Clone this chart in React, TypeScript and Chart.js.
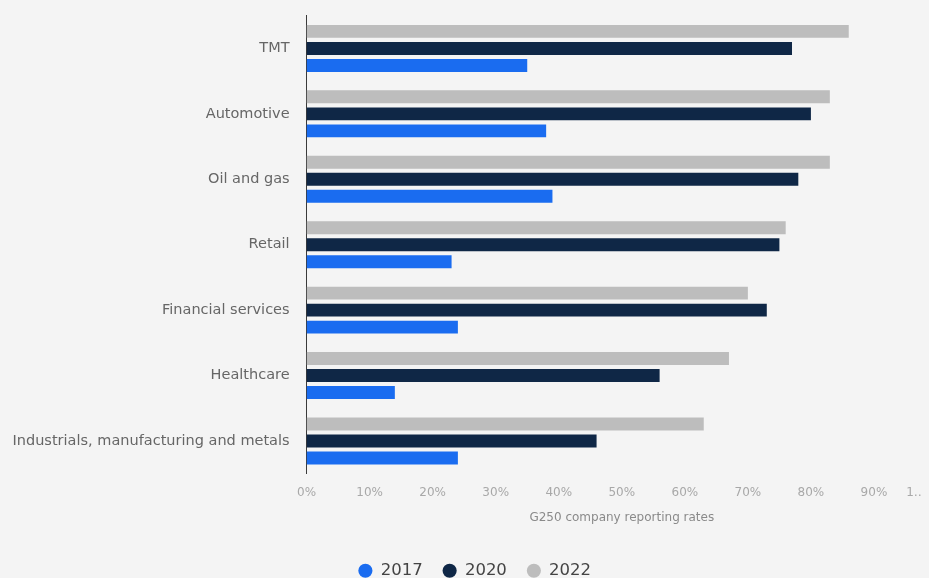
import React, { useEffect, useRef } from 'react';
import { Chart, registerables } from 'chart.js';

Chart.register(...registerables);

const categories = [
  'TMT',
  'Automotive',
  'Oil and gas',
  'Retail',
  'Financial services',
  'Healthcare',
  'Industrials, manufacturing and metals',
];
const seriesLabels = ['2017', '2020', '2022'];
const values2017 = [35, 38, 39, 23, 24, 14, 24];
const values2020 = [77, 80, 78, 75, 73, 56, 46];
const values2022 = [86, 83, 83, 76, 70, 67, 63];
const xTickValues = [0, 10, 20, 30, 40, 50, 60, 70, 80, 90, 100];
const xAxisTitle = 'G250 company reporting rates';

const colors = { '2017': '#1a6cf0', '2020': '#0f2746', '2022': '#bdbdbd' };

export default function App() {
  const ref = useRef<HTMLCanvasElement | null>(null);

  useEffect(() => {
    document.body.style.backgroundColor = '#f4f4f4';
    document.body.style.overflow = 'hidden';
    const canvas = ref.current;
    if (!canvas) return;
    Chart.defaults.font.family = "'DejaVu Sans', sans-serif";
    const chart = new Chart(canvas, {
      type: 'bar',
      data: {
        labels: categories,
        datasets: [
          { label: seriesLabels[2], data: values2022, backgroundColor: colors['2022'] },
          { label: seriesLabels[1], data: values2020, backgroundColor: colors['2020'] },
          { label: seriesLabels[0], data: values2017, backgroundColor: colors['2017'] },
        ],
      },
      options: {
        indexAxis: 'y',
        animation: false,
        responsive: false,
        maintainAspectRatio: false,
        devicePixelRatio: 1,
        datasets: { bar: { categoryPercentage: 0.78, barPercentage: 0.76 } },
        layout: { padding: { top: 6, left: 4.5, right: 51, bottom: 0 } },
        scales: {
          x: {
            type: 'linear',
            min: 0,
            max: 100,
            afterBuildTicks: (scale: any) => {
              scale.ticks = xTickValues.map((v) => ({ value: v }));
            },
            grid: { display: false, drawTicks: false },
            border: { display: false },
            ticks: {
              color: '#a8a8a8',
              font: { size: 12 },
              padding: 11.8,
              maxRotation: 0,
              minRotation: 0,
              autoSkip: false,
              callback: (v: any) => (Number(v) === 100 ? '1…\u2003\u2003\u2003\u2002' : v + '%'),
            },
            title: {
              display: true,
              text: xAxisTitle,
              color: '#8a8a8a',
              font: { size: 12 },
              padding: { top: -1.4, bottom: 17.8 },
            },
          },
          y: {
            grid: {
              display: true,
              drawOnChartArea: false,
              drawTicks: true,
              tickLength: 17,
              color: 'rgba(0,0,0,0)',
            },
            border: { display: true, color: '#3a3a3a', width: 1 },
            ticks: { color: '#666666', font: { size: 14.5 }, padding: 0 },
          },
        },
        plugins: {
          legend: {
            position: 'bottom',
            reverse: true,
            labels: {
              usePointStyle: true,
              pointStyle: 'circle',
              boxWidth: 14,
              boxHeight: 10,
              padding: 20,
              color: '#444444',
              font: { size: 16.5 },
            },
          },
          tooltip: { enabled: false },
        },
      },
    } as any);
    return () => chart.destroy();
  }, []);

  return (
    <div style={{ width: 921, height: 570, overflow: 'hidden' }}>
      <canvas
        ref={ref}
        width={980}
        height={582}
        style={{ display: 'block', width: 980, height: 582, marginTop: -1.5 }}
      />
    </div>
  );
}
